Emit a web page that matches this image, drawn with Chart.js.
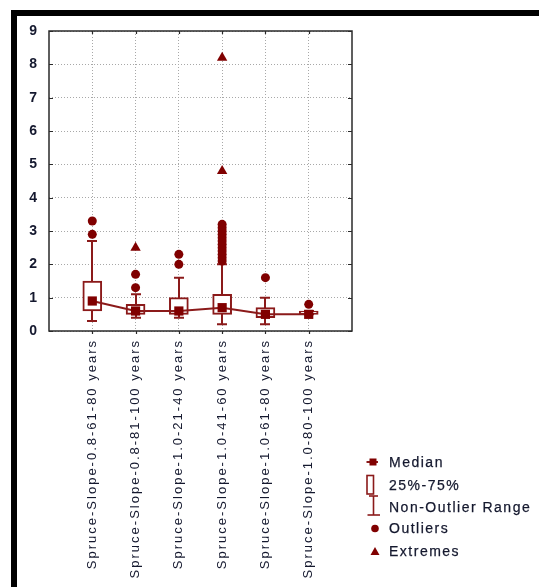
<!DOCTYPE html>
<html>
<head>
<meta charset="utf-8">
<script src="https://cdn.jsdelivr.net/npm/chart.js@4.4.0/dist/chart.umd.min.js"></script>
<style>
  html, body { margin: 0; padding: 0; background: #fff; }
  #wrap { position: relative; width: 539px; height: 587px; overflow: hidden; background: #fff; }
  #plot { position: absolute; left: 0; top: 0; }
  .bar { position: absolute; background: #000; }
  #legend { position: absolute; left: 0; top: 0; width: 539px; height: 587px; pointer-events: none;
            font-family: "Liberation Sans", Arial, sans-serif; font-size: 14px; letter-spacing: 1.5px; color: #14182e; }
  .item { position: absolute; left: 389px; height: 20px; line-height: 20px; white-space: nowrap; -webkit-text-stroke: 0.25px #14182e; }
  .icon { position: absolute; overflow: visible; }
</style>
</head>
<body>
<div id="wrap">
  <canvas id="plot" width="539" height="587"></canvas>
  <div class="bar" style="left:11px;top:10px;width:528px;height:6px;"></div>
  <div class="bar" style="left:11px;top:10px;width:6px;height:577px;"></div>
  <div id="legend">
    <svg class="icon" style="left:360px;top:450px" width="30" height="120" viewBox="360 450 30 120">
      <line x1="366.5" y1="462" x2="378" y2="462" stroke="#8b1a1a" stroke-width="2"/>
      <rect x="369.5" y="458.5" width="7" height="7" fill="#800000"/>
      <rect x="367" y="475.5" width="6.5" height="18.5" fill="#fff" stroke="#8b1a1a" stroke-width="1.6"/>
      <line x1="373.5" y1="496" x2="373.5" y2="515" stroke="#8b1a1a" stroke-width="1.6"/>
      <line x1="369" y1="496" x2="378" y2="496" stroke="#8b1a1a" stroke-width="1.6"/>
      <line x1="367.5" y1="515" x2="380" y2="515" stroke="#8b1a1a" stroke-width="1.6"/>
      <circle cx="375" cy="528.5" r="3.8" fill="#800000"/>
      <polygon points="375,547 379.5,555 370.5,555" fill="#800000"/>
    </svg>
    <div class="item" style="top:452px">Median</div>
    <div class="item" style="top:475px">25%-75%</div>
    <div class="item" style="top:497px">Non-Outlier Range</div>
    <div class="item" style="top:518px">Outliers</div>
    <div class="item" style="top:541px">Extremes</div>
  </div>
</div>
<script>
// Groups along the horizontal axis
const categories = [
  'Spruce-Slope-0.8-61-80 years',
  'Spruce-Slope-0.8-81-100 years',
  'Spruce-Slope-1.0-21-40 years',
  'Spruce-Slope-1.0-41-60 years',
  'Spruce-Slope-1.0-61-80 years',
  'Spruce-Slope-1.0-80-100 years'
];
// Box statistics per group
const medians     = [0.9, 0.6, 0.6, 0.7, 0.5, 0.5];
const q1          = [0.6, 0.5, 0.5, 0.5, 0.4, 0.5];
const q3          = [1.5, 0.8, 1.0, 1.1, 0.7, 0.6];
const whiskerLow  = [0.3, 0.4, 0.4, 0.2, 0.2, 0.5];
const whiskerHigh = [2.7, 1.1, 1.6, 2.0, 1.0, 0.6];
// Individual points beyond the whiskers
const outliers = [
  [2.9, 3.3],
  [1.3, 1.7],
  [2.0, 2.3],
  [2.1, 2.2, 2.3, 2.4, 2.5, 2.6, 2.7, 2.8, 2.9, 3.0, 3.1, 3.2],
  [1.6],
  [0.8]
];
const extremes = [
  [],
  [2.5],
  [],
  [4.8, 8.2],
  [],
  []
];
const yTicks = [0, 1, 2, 3, 4, 5, 6, 7, 8, 9];

const LINE = '#8b1a1a';
const MARK = '#800000';
const TEXT = '#14182e';
const FONT = '"Liberation Sans", Arial, sans-serif';

const flatten = groups => groups.flatMap((vals, i) => vals.map(v => ({ x: i + 1, y: v })));

// Wide text tracking on the canvas labels
const tracking = {
  id: 'tracking',
  beforeUpdate(c) { c.ctx.letterSpacing = '2px'; },
  beforeLayout(c) { c.ctx.letterSpacing = '2px'; },
  beforeDraw(c) { c.ctx.letterSpacing = '2px'; }
};

// Whisker stems and caps, placed with the chart scales
const whiskers = {
  id: 'whiskers',
  beforeDatasetsDraw(chart) {
    const { ctx, scales: { x, y } } = chart;
    ctx.save();
    ctx.strokeStyle = LINE;
    ctx.lineWidth = 2;
    categories.forEach((c, i) => {
      const px = Math.round(x.getPixelForValue(i + 1));
      const lo = y.getPixelForValue(whiskerLow[i]);
      const hi = y.getPixelForValue(whiskerHigh[i]);
      ctx.beginPath();
      ctx.moveTo(px, lo); ctx.lineTo(px, hi);
      ctx.moveTo(px - 5, lo); ctx.lineTo(px + 5, lo);
      ctx.moveTo(px - 5, hi); ctx.lineTo(px + 5, hi);
      ctx.stroke();
    });
    ctx.restore();
  }
};

// Plot frame with inward tick marks on every side
const frame = {
  id: 'frame',
  afterDraw(chart) {
    const { ctx, chartArea: a, scales: { x, y } } = chart;
    ctx.save();
    ctx.strokeStyle = '#2a2a2a';
    ctx.lineWidth = 1.5;
    ctx.strokeRect(a.left, a.top, a.right - a.left, a.bottom - a.top);
    ctx.lineWidth = 1.2;
    ctx.beginPath();
    x.ticks.forEach(t => {
      const px = Math.round(x.getPixelForValue(t.value)) + 0.5;
      ctx.moveTo(px, a.top); ctx.lineTo(px, a.top + 3);
      ctx.moveTo(px, a.bottom); ctx.lineTo(px, a.bottom + 3);
    });
    y.ticks.forEach(t => {
      const py = Math.round(y.getPixelForValue(t.value)) + 0.5;
      ctx.moveTo(a.left, py); ctx.lineTo(a.left + 4, py);
      ctx.moveTo(a.right, py); ctx.lineTo(a.right - 4, py);
    });
    ctx.stroke();
    ctx.restore();
  }
};

new Chart(document.getElementById('plot'), {
  type: 'bar',
  data: {
    datasets: [
      {
        type: 'line',
        label: 'Median',
        data: medians.map((v, i) => ({ x: i + 1, y: v })),
        borderColor: LINE,
        borderWidth: 2,
        tension: 0,
        pointStyle: 'rect',
        pointRadius: 6.5,
        pointBackgroundColor: MARK,
        pointBorderWidth: 0,
        order: 0
      },
      {
        type: 'line',
        label: 'Outliers',
        data: flatten(outliers),
        showLine: false,
        pointStyle: 'circle',
        pointRadius: 4.5,
        pointBackgroundColor: MARK,
        pointBorderWidth: 0,
        order: 1
      },
      {
        type: 'line',
        label: 'Extremes',
        data: flatten(extremes),
        showLine: false,
        pointStyle: 'triangle',
        pointRadius: 6,
        pointBackgroundColor: MARK,
        pointBorderWidth: 0,
        order: 1
      },
      {
        type: 'bar',
        label: '25%-75%',
        data: q1.map((v, i) => ({ x: i + 1, y: [v, q3[i]] })),
        backgroundColor: '#ffffff',
        borderColor: LINE,
        borderWidth: 2,
        borderSkipped: false,
        barThickness: 19,
        grouped: false,
        order: 3
      }
    ]
  },
  options: {
    responsive: false,
    animation: false,
    events: [],
    devicePixelRatio: 1,
    layout: { padding: { top: 31, right: 187, left: 0, bottom: 0 } },
    plugins: { legend: { display: false }, tooltip: { enabled: false } },
    scales: {
      x: {
        type: 'linear',
        min: 0,
        max: 7,
        offset: false,
        afterBuildTicks: s => { s.ticks = categories.map((c, i) => ({ value: i + 1 })); },
        afterFit: s => { s.height = 256; },
        ticks: {
          autoSkip: false,
          maxRotation: 90,
          minRotation: 90,
          padding: 8,
          color: TEXT,
          font: { family: FONT, size: 13 },
          callback: v => categories[v - 1]
        },
        grid: { color: '#a8a8a8', lineWidth: 1, drawTicks: false, offset: false },
        border: { display: false, dash: [1, 2] }
      },
      y: {
        min: 0,
        max: 9,
        afterBuildTicks: s => { s.ticks = yTicks.map(v => ({ value: v })); },
        afterFit: s => { s.width = 49; },
        ticks: {
          padding: 10,
          color: TEXT,
          font: { family: FONT, size: 14, weight: 'bold' }
        },
        grid: { color: '#a8a8a8', lineWidth: 1, drawTicks: false },
        border: { display: false, dash: [1, 2] }
      }
    }
  },
  plugins: [tracking, whiskers, frame]
});
</script>
</body>
</html>
